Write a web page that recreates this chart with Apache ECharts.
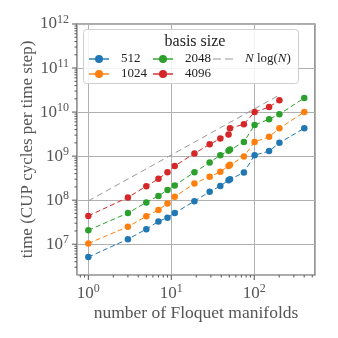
<!DOCTYPE html>
<html>
<head>
<meta charset="utf-8">
<script src="https://cdn.jsdelivr.net/npm/echarts@6/dist/echarts.min.js"></script>
<style>
  html, body { margin: 0; padding: 0; background: #fff; }
  #chart { width: 338px; height: 338px; }
</style>
</head>
<body>
<div id="chart"></div>
<script>
  // number of Floquet manifolds
  var manifolds = [1, 3, 5, 7, 9, 11, 19, 29, 39, 49, 51, 75, 101, 151, 201, 401];
  var manifolds4096 = [1, 3, 5, 7, 9, 11, 19, 29, 39, 49, 51, 75, 101, 151, 201];

  // CPU cycles per time step
  var basis512 = [5.1e6, 1.3e7, 2.2e7, 3.3e7, 4.0e7, 5.1e7, 9.5e7, 1.55e8, 2.1e8, 2.85e8, 3.0e8, 4.25e8, 1.05e9, 1.3e9, 2.0e9, 4.3e9];
  var basis1024 = [1.04e7, 2.5e7, 4.3e7, 6.0e7, 8.4e7, 1.19e8, 2.4e8, 3.4e8, 4.4e8, 6.0e8, 6.4e8, 9.8e8, 2.1e9, 2.75e9, 4.3e9, 1.0e10];
  var basis2048 = [2.08e7, 5.1e7, 8.9e7, 1.25e8, 1.7e8, 2.15e8, 4.3e8, 7.2e8, 1.05e9, 1.32e9, 1.42e9, 2.1e9, 5.1e9, 6.9e9, 8.9e9, 2.1e10];
  var basis4096 = [4.4e7, 1.15e8, 2.08e8, 3.05e8, 4.3e8, 6.0e8, 1.15e9, 1.85e9, 2.5e9, 3.1e9, 4.3e9, 5.3e9, 1.0e10, 1.3e10, 1.85e10];

  // N log(N) guide line
  var guideX = [1, 201];
  var guideY = [9.6e7, 2.44e10];

  // major ticks
  var xMajor = [1, 10, 100];
  var yMajor = [1e7, 1e8, 1e9, 1e10, 1e11, 1e12];

  var xMin = 0.73, xMax = 540, yMin = 2e6, yMax = 1e12;
  var font = 'Liberation Serif';
  var textColor = '#555';
  var spineColor = '#555';

  function pairs(xs, ys) {
    return ys.map(function (y, i) { return [xs[i], y]; });
  }

  function minorValues(lo, hi) {
    var out = [];
    for (var e = -1; e <= 12; e++) {
      for (var k = 2; k <= 9; k++) {
        var v = k * Math.pow(10, e);
        if (v > lo && v < hi) out.push(v);
      }
    }
    return out;
  }

  function powLabel(v) {
    var e = Math.log10(v);
    if (Math.abs(e - Math.round(e)) > 1e-6) return '';
    return '{b|10}{s|' + Math.round(e) + '}';
  }

  var labelRich = {
    b: { fontFamily: font, fontSize: 17, color: textColor },
    s: { fontFamily: font, fontSize: 12, color: textColor, padding: [0, 0, 9, 0] }
  };

  // axis ticks drawn through the axis scales
  function tickSeries(values, len, isX) {
    return {
      type: 'custom',
      silent: true,
      clip: false,
      z: 5,
      data: values.map(function (v) { return isX ? [v, yMin] : [xMin, v]; }),
      renderItem: function (params, api) {
        var p = api.coord([api.value(0), api.value(1)]);
        var shape = isX ? { x1: p[0], y1: p[1], x2: p[0], y2: p[1] + len }
                        : { x1: p[0] - len, y1: p[1], x2: p[0], y2: p[1] };
        return { type: 'line', shape: shape, style: { stroke: spineColor, lineWidth: 1 } };
      }
    };
  }

  function dataSeries(name, xs, ys, color) {
    return {
      name: name,
      type: 'line',
      data: pairs(xs, ys),
      symbol: 'circle',
      symbolSize: 6.5,
      color: color,
      itemStyle: { color: color },
      lineStyle: { color: color, width: 1, type: [5, 3] },
      z: 3
    };
  }

  var legendText = { fontFamily: font, fontSize: 13, lineHeight: 14, color: '#222', padding: [0, 0, 0, 7] };

  var myChart = echarts.init(document.getElementById('chart'));
  var option = {
    backgroundColor: '#fff',
    animation: false,
    grid: {
      left: 77,
      right: 23,
      top: 24,
      bottom: 63,
      show: true,
      borderColor: spineColor,
      borderWidth: 1.2,
      backgroundColor: 'transparent'
    },
    title: {
      text: 'basis size',
      left: 190,
      top: 29,
      textAlign: 'center',
      textStyle: { fontFamily: font, fontSize: 16, fontWeight: 'normal', color: '#222' },
      z: 12
    },
    graphic: [{
      type: 'rect',
      left: 83,
      top: 29,
      shape: { width: 215, height: 54, r: 3 },
      style: { fill: 'rgba(255,255,255,0.85)', stroke: '#cfcfcf', lineWidth: 1 },
      z: 10
    }],
    legend: [
      {
        data: ['512', '1024'],
        orient: 'vertical',
        left: 83,
        top: 47,
        itemWidth: 20,
        itemHeight: 10,
        itemGap: 1,
        lineStyle: { type: 'solid', opacity: 0.7 },
        textStyle: legendText,
        z: 12
      },
      {
        data: ['2048', '4096'],
        orient: 'vertical',
        left: 147,
        top: 47,
        itemWidth: 20,
        itemHeight: 10,
        itemGap: 1,
        lineStyle: { type: 'solid', opacity: 0.7 },
        textStyle: legendText,
        z: 12
      },
      {
        data: [{ name: 'N log(N)', icon: 'path://M0,0h8v1h-8z M12,0h8v1h-8z' }],
        orient: 'vertical',
        left: 208,
        top: 47,
        itemWidth: 20,
        itemHeight: 1.2,
        formatter: function () { return '{i|N} log({i|N})'; },
        textStyle: {
          fontFamily: font, fontSize: 13, lineHeight: 14, color: '#222', padding: [0, 0, 0, 7],
          rich: { i: { fontFamily: font, fontSize: 13, lineHeight: 14, fontStyle: 'italic', color: '#222' } }
        },
        z: 12
      }
    ],
    xAxis: {
      type: 'log',
      logBase: 10,
      min: xMin,
      max: xMax,
      name: 'number of Floquet manifolds',
      nameLocation: 'middle',
      nameGap: 29,
      nameMoveOverlap: false,
      nameTextStyle: { fontFamily: font, fontSize: 17.5, color: textColor },
      axisLine: { show: false },
      axisTick: { show: false },
      axisLabel: { formatter: powLabel, rich: labelRich, margin: 8, showMinLabel: false, showMaxLabel: false },
      splitLine: { show: true, lineStyle: { color: '#b0b0b0', width: 1 } }
    },
    yAxis: {
      type: 'log',
      logBase: 10,
      min: yMin,
      max: yMax,
      name: 'time (CUP cycles per time step)',
      nameLocation: 'middle',
      nameGap: 41,
      nameMoveOverlap: false,
      nameTextStyle: { fontFamily: font, fontSize: 17, color: textColor },
      axisLine: { show: false },
      axisTick: { show: false },
      axisLabel: { formatter: powLabel, rich: labelRich, margin: 8, showMinLabel: false },
      splitLine: { show: true, lineStyle: { color: '#b0b0b0', width: 1 } }
    },
    series: [
      dataSeries('512', manifolds, basis512, '#1f77b4'),
      dataSeries('1024', manifolds, basis1024, '#ff7f0e'),
      dataSeries('2048', manifolds, basis2048, '#2ca02c'),
      dataSeries('4096', manifolds4096, basis4096, '#d62728'),
      {
        name: 'N log(N)',
        type: 'line',
        data: pairs(guideX, guideY),
        symbol: 'none',
        color: '#999',
        lineStyle: { color: '#999', width: 1, type: [6, 4] },
        z: 2
      },
      tickSeries(xMajor, 5, true),
      tickSeries(minorValues(xMin, xMax), 2.5, true),
      tickSeries(yMajor, 5, false),
      tickSeries(minorValues(yMin, yMax), 2.5, false)
    ]
  };

  if (option && typeof option === 'object') {
    myChart.setOption(option, true);
  }
</script>
</body>
</html>
